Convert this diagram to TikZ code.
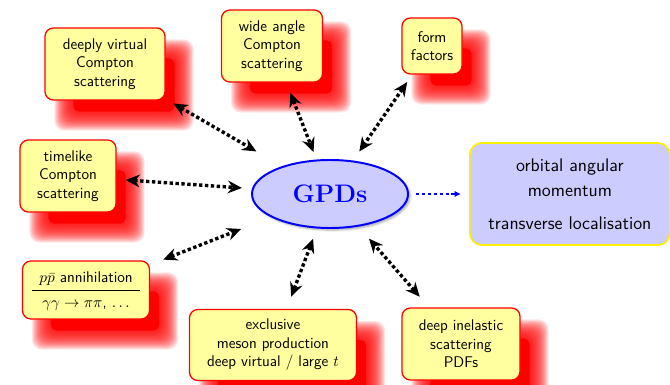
\documentclass[tikz,border=0pt]{standalone}
\usepackage{tikz}
\definecolor{boxyellow}{HTML}{FFFFA0}
\definecolor{gpdlilac}{HTML}{CCCCFF}
\definecolor{rimyellow}{HTML}{FFF000}
\usetikzlibrary{arrows.meta, positioning, shapes.geometric, shadows.blur, calc, backgrounds}
\tikzset{
	procbox/.style={draw=red, line width=0.9pt, fill=boxyellow, rounded corners=6pt,
		align=center, font=\fontsize{11}{13.2}\selectfont\sffamily, inner sep=3pt},
	glow/.style={fill=red, opacity=0.1, rounded corners=7pt},
	gpdnode/.style={ellipse, draw=blue, line width=1.4pt, fill=gpdlilac, text=blue,
		minimum width=3.9cm, minimum height=1.7cm, inner sep=0pt,
		font=\fontsize{18}{22}\selectfont\bfseries,
		blur shadow={shadow xshift=1.5pt, shadow yshift=-1.5pt, shadow blur radius=1.5pt, shadow opacity=35}},
	resbox/.style={draw=rimyellow, line width=1.2pt, fill=gpdlilac, rounded corners=8.5pt,
		align=center, font=\fontsize{13}{17.5}\selectfont\sffamily,
		minimum width=5cm, minimum height=2.55cm},
	darr/.style={{Stealth[length=10pt, width=9pt]}-{Stealth[length=10pt, width=9pt]},
		line width=2.4pt, dash pattern=on 2.4pt off 1.8pt},
	barr/.style={-{Latex[length=4.5pt, width=4.5pt]}, draw=blue, line width=1.3pt,
		dash pattern=on 2.2pt off 2pt}
}

\begin{document}
\begin{tikzpicture}[x=0.025cm, y=-0.025cm]
	\useasboundingbox (0,0) rectangle (670,385);
	\node[gpdnode] (gpd) at (330,194) {GPDs};
	\node[resbox, right=1.5cm of gpd] (orbital) {orbital angular\\momentum\\[6pt]transverse localisation};
	% the processes round the GPDs
	\node[procbox, minimum width=3cm, minimum height=1.8cm] (dvcs) at (105,64) {deeply virtual\\Compton\\scattering};
	\node[procbox, minimum width=2.525cm, minimum height=1.8cm] (wacs) at (272,46) {wide angle\\Compton\\scattering};
	\node[procbox, minimum width=1.5cm, minimum height=1.4cm] (ff) at (432,46) {form\\factors};
	\node[procbox, minimum width=2.4cm, minimum height=1.8cm] (tcs) at (68,176) {timelike\\Compton\\scattering};
	\node[procbox, minimum width=3.175cm, minimum height=1.45cm, inner sep=0pt] (ppbar) at (86,290)
		{\renewcommand\arraystretch{1.35}\begin{tabular}{@{\hspace{5pt}}c@{\hspace{5pt}}}
			$p\bar p$ annihilation\\ \hline $\gamma\gamma\to\pi\pi$, $\ldots$\end{tabular}};
	\node[procbox, minimum width=4.175cm, minimum height=1.775cm] (meson) at (273,345) {exclusive\\meson production\\deep virtual / large $t$};
	\node[procbox, minimum width=2.95cm, minimum height=1.8cm] (dis) at (461,344) {deep inelastic\\scattering\\PDFs};
	% soft red shadows behind the boxes
	\begin{scope}[on background layer]
		\foreach \n in {dvcs,wacs,ff,tcs,ppbar,meson,dis}{
			\fill[red, rounded corners=4pt] ($(\n.north west)+(29,31)$) rectangle ($(\n.south east)+(9,11)$);
			\foreach \k in {-10,...,9}
				\fill[glow] ($(\n.north west)+(19-\k,21-\k)$) rectangle ($(\n.south east)+(19+\k,21+\k)$);
		}
	\end{scope}
	\draw[darr, shorten <=6.4pt, shorten >=21pt] (dvcs) -- (gpd);
	\draw[darr, shorten <=7.8pt, shorten >=5.7pt] (wacs) -- (gpd);
	\draw[darr, shorten <=6.4pt, shorten >=7.8pt] (ff) -- (gpd);
	\draw[darr, shorten <=6.4pt, shorten >=7.1pt] (tcs) -- (gpd);
	\draw[darr, shorten <=10pt, shorten >=22.8pt] (ppbar) -- (gpd);
	\draw[darr, shorten <=9.2pt, shorten >=7.8pt] (meson) -- (gpd);
	\draw[darr, shorten <=10pt, shorten >=11.4pt] (dis) -- (gpd);
	\draw[barr, shorten <=5pt, shorten >=5.7pt] (gpd) -- (orbital);
\end{tikzpicture}
\end{document}
